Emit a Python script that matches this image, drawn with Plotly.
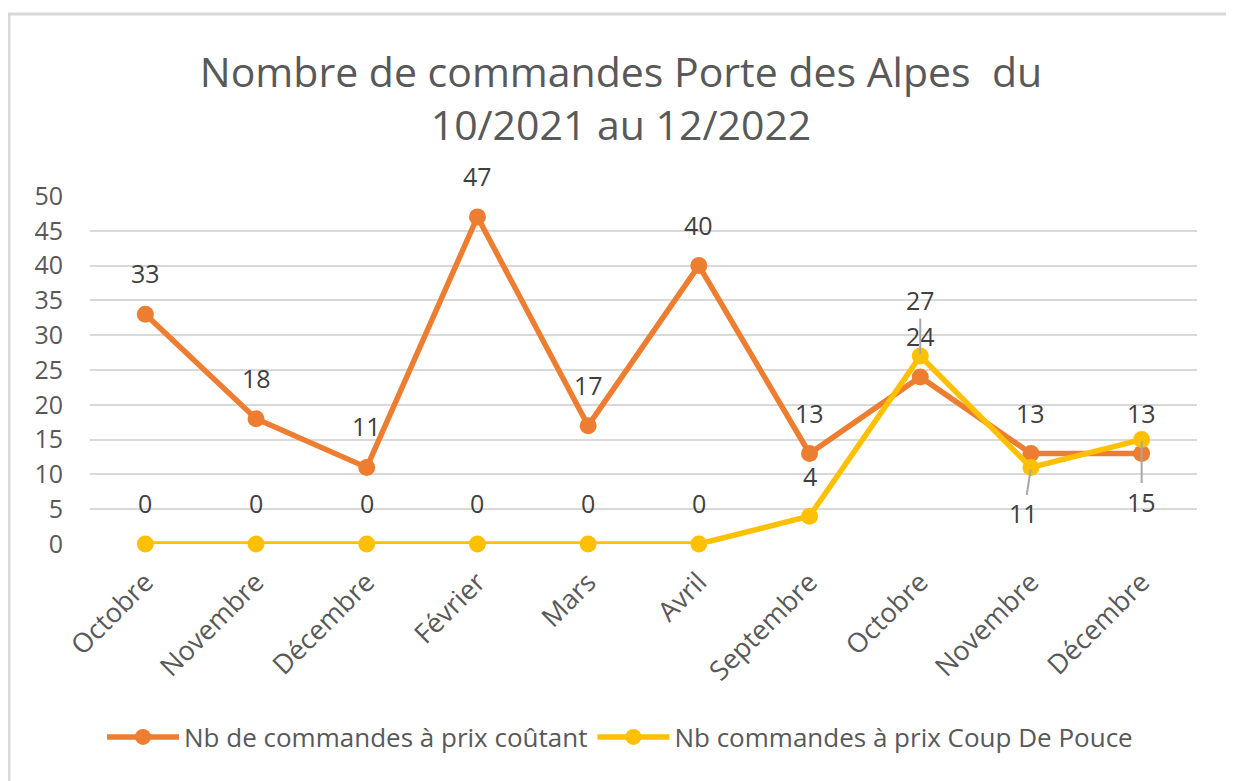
import plotly.graph_objects as go

categories = ["Octobre", "Novembre", "Décembre", "Février", "Mars", "Avril",
              "Septembre", "Octobre ", "Novembre ", "Décembre "]
tick_labels = ["Octobre", "Novembre", "Décembre", "Février", "Mars", "Avril",
               "Septembre", "Octobre", "Novembre", "Décembre"]
prix_coutant = [33, 18, 11, 47, 17, 40, 13, 24, 13, 13]
coup_de_pouce = [0, 0, 0, 0, 0, 0, 4, 27, 11, 15]
y_ticks = [0, 5, 10, 15, 20, 25, 30, 35, 40, 45, 50]

name_a = "Nb de commandes à prix coûtant"
name_b = "Nb commandes à prix Coup De Pouce"
title = "Nombre de commandes Porte des Alpes  du<br>10/2021 au 12/2022"

ORANGE = "#ED7D31"
YELLOW = "#FFC000"
FONT = "Open Sans"

# page body has an 8px margin; layout below is in page coords minus 8
L, R, T, B = 82, 1189, 188, 536

fig = go.Figure()
fig.add_trace(go.Scatter(x=categories, y=prix_coutant, name=name_a, mode="lines+markers",
                         line=dict(color=ORANGE, width=5.5), marker=dict(size=17, color=ORANGE),
                         cliponaxis=False))
fig.add_trace(go.Scatter(x=categories, y=coup_de_pouce, name=name_b, mode="lines+markers",
                         line=dict(color=YELLOW, width=5.5), marker=dict(size=17, color=YELLOW),
                         cliponaxis=False))

lab_font = dict(family=FONT, size=25, color="#404040")
for c, v in zip(categories, prix_coutant):
    fig.add_annotation(x=c, y=v, text=str(v), showarrow=False, yshift=41, font=lab_font)

# label offsets (ax, ay in px) for the yellow series; leader lines where used
offsets_b = [(0, -41, False)] * 6 + [(0, -40, False), (0, -56, True), (-7, 46, True), (0, 62, True)]
for c, v, (ax, ay, arrow) in zip(categories, coup_de_pouce, offsets_b):
    if arrow:
        fig.add_annotation(x=c, y=v, text=str(v), showarrow=True, arrowhead=0, arrowwidth=2,
                           arrowcolor="#A6A6A6", ax=ax, ay=ay, standoff=2, font=lab_font)
    else:
        fig.add_annotation(x=c, y=v, text=str(v), showarrow=False, yshift=-ay, font=lab_font)

# chart border
W = R - L
H = B - T
fig.add_shape(type="rect", xref="paper", yref="paper",
              x0=(1 - L) / W, x1=(1224 - L) / W,
              y0=(B - 800) / H, y1=(B - 6) / H,
              line=dict(color="#D9D9D9", width=3), fillcolor="rgba(0,0,0,0)", layer="below")

fig.update_layout(
    width=1234, height=781,
    margin=dict(l=L, r=1234 - R, t=T, b=781 - B),
    paper_bgcolor="white", plot_bgcolor="white",
    title=dict(text=title, x=613 / 1234, xref="container", xanchor="center",
               y=1 - 79 / 781, yanchor="middle",
               font=dict(family=FONT, size=41, color="#595959")),
    xaxis=dict(tickmode="array", tickvals=categories, ticktext=tick_labels, tickangle=-45,
               showgrid=False, showline=False, zeroline=False, ticks="",
               tickfont=dict(family=FONT, size=27, color="#595959"), ticklabelstandoff=16,
               range=[-0.5, 9.5]),
    yaxis=dict(range=[0, 50], tickvals=y_ticks, showgrid=True, gridcolor="#D9D9D9", gridwidth=2,
               zeroline=False, showline=False, ticks="",
               tickfont=dict(family=FONT, size=25, color="#595959"), ticklabelstandoff=26),
    legend=dict(orientation="h", x=612 / 1234, xref="container", xanchor="center",
                y=1 - 729 / 781, yref="container", yanchor="middle",
                font=dict(family=FONT, size=26, color="#595959"), itemwidth=72),
    showlegend=True,
)

fig.write_html("out.html")
